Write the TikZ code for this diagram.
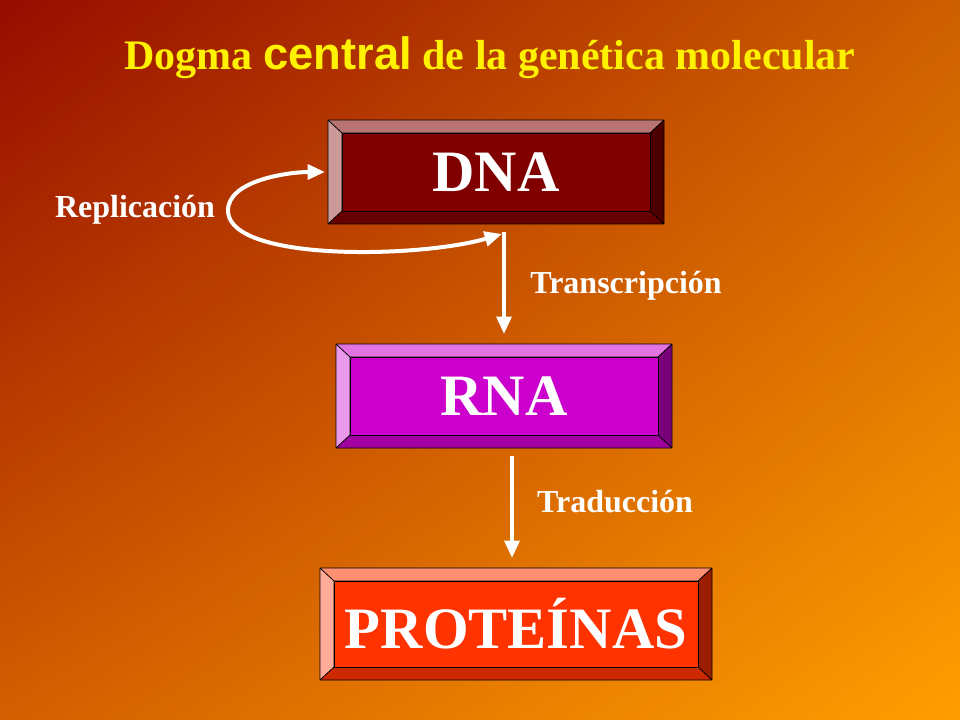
\documentclass[tikz,border=0pt]{standalone}
\usepackage{fontspec}
\setmainfont{Liberation Serif}
\newfontfamily\arialf{Liberation Sans}
\usetikzlibrary{arrows.meta,shadings}
\definecolor{bgUL}{RGB}{150,12,0}
\definecolor{bgUR}{RGB}{205,95,0}
\definecolor{bgLL}{RGB}{210,95,0}
\definecolor{bgLR}{RGB}{255,158,0}
\definecolor{dnaC}{RGB}{128,0,0}
\definecolor{rnaC}{RGB}{204,0,204}
\definecolor{protC}{RGB}{255,51,0}
\newcommand{\bevbox}[9]{%
\fill[#7!55!white] (#2,#3) -- (#4,#3) -- (#4-14,#3+13) -- (#2+14,#3+13) -- cycle;
\fill[#7!40!white] (#2,#3) -- (#2+14,#3+13) -- (#2+14,#5-13) -- (#2,#5) -- cycle;
\fill[#7!80!black] (#2,#5) -- (#2+14,#5-13) -- (#4-14,#5-13) -- (#4,#5) -- cycle;
\fill[#7!60!black] (#4,#3) -- (#4,#5) -- (#4-14,#5-13) -- (#4-14,#3+13) -- cycle;
\draw[black,line width=0.6pt] (#2,#3) rectangle (#4,#5) (#2+14,#3+13) rectangle (#4-14,#5-13)
 (#2,#3)--(#2+14,#3+13) (#4,#3)--(#4-14,#3+13) (#2,#5)--(#2+14,#5-13) (#4,#5)--(#4-14,#5-13);
\node[fill=#6,draw=black,line width=0.6pt,minimum width={(#4-#2-28)*0.75pt},minimum height={(#5-#3-26)*0.75pt},inner sep=0pt,
 text=white,font=\bfseries\fontsize{#9}{#9}\selectfont] (#1) at ({(#2+#4)/2},{(#3+#5)/2}) {#8};}
\begin{document}
\begin{tikzpicture}[x=0.75pt,y=-0.75pt,
  lbl/.style={text=white,font=\bfseries\fontsize{24}{28}\selectfont},
  tip/.style={Triangle[length=13pt,width=11pt]},
  wa/.style={white,line width=3pt,-{Triangle[length=13pt,width=11pt]}}]
\shade[upper left=bgUL, upper right=bgUR, lower left=bgLL, lower right=bgLR] (0,0) rectangle (960,720);
\node[text=yellow,font=\bfseries\fontsize{31.5}{36}\selectfont] (title) at (490,58) {Dogma {\arialf\fontsize{34}{36}\selectfont central} de la genética molecular};
\bevbox{dna}{328}{120}{664}{224}{dnaC}{dnaC}{DNA}{44}
\bevbox{rna}{336}{344}{672}{448}{rnaC}{rnaC}{RNA}{44}
\bevbox{prot}{320}{568}{712}{680}{protC}{protC}{PROTEÍNAS}{44}
\coordinate (a1) at (504,232);
\coordinate (a1e) at (504,334);
\coordinate (a2) at (512,456);
\coordinate (a2e) at (512,558);
\coordinate (r1) at (502,234);
\coordinate (r2) at (325,172);
\draw[wa] (a1) -- (a1e);
\draw[white,line width=3pt,{Triangle[length=13pt,width=11pt]}-{Triangle[length=13pt,width=11pt]}] (r1) .. controls (420,258) and (232,262) .. (228,212) .. controls (226,180) and (290,172) .. (r2);
\draw[wa] (a2) -- (a2e);
\node[lbl] (rep) at (135,210) {Replicación};
\node[lbl] (tr) at (626,286) {Transcripción};
\node[lbl] (td) at (615,502) {Traducción};
\end{tikzpicture}
\end{document}
